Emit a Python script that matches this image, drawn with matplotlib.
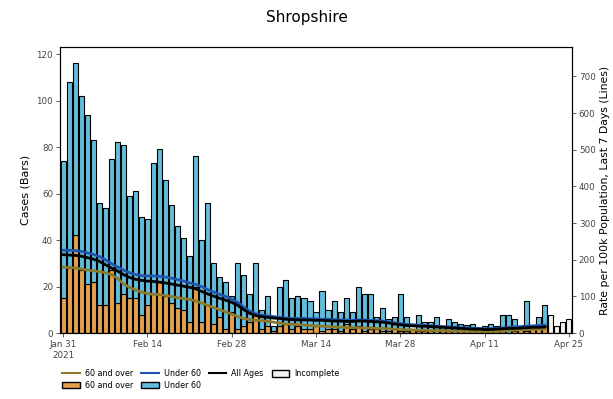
import matplotlib
matplotlib.use("Agg")
import matplotlib.pyplot as plt
from matplotlib.patches import Patch
from matplotlib.lines import Line2D
import numpy as np
import pandas as pd

# daily cases, Jan 31 2021 onwards (complete days)
total_cases = [74, 108, 116, 102, 94, 83, 56, 54, 75, 82, 81, 59, 61, 50, 49,
               73, 79, 66, 55, 46, 41, 33, 76, 40, 56, 30, 24, 22, 16,
               30, 25, 17, 30, 10, 16, 3, 20, 23, 15, 16, 15, 14, 9,
               18, 10, 14, 9, 15, 9, 20, 17, 17, 7, 11, 6, 7, 17,
               7, 2, 8, 5, 5, 7, 3, 6, 5, 4, 3.5, 4, 2, 3,
               4, 3, 8, 8, 6, 2, 14, 3, 7, 12]
over60_cases = [15, 28, 42, 27, 21, 22, 12, 12, 27, 13, 17, 15, 15, 8, 12,
                17, 22, 16, 13, 11, 10, 5, 20, 5, 12, 4, 7, 2, 9,
                2, 3, 5, 8, 2, 3, 1, 3, 4, 2, 3, 2, 2, 3,
                1, 2, 2, 1, 4, 2, 3, 1, 2, 2, 1, 1, 2, 1,
                1, 2, 1, 1, 1, 0, 1, 1, 0, 1, 0, 1, 0,
                1, 1, 1, 1, 0, 1, 2, 1, 2, 3, 3]
incomplete_cases = [8, 3, 5, 6]

# 7-day rates per 100k
rate_all = [214, 213, 212, 210, 206, 202, 196, 187, 178, 170, 160, 152, 147, 144, 142,
            141, 139, 137, 134, 131, 128, 125, 121, 114, 107, 101, 95, 90, 84,
            76, 64, 54, 48, 45, 43, 41, 40, 38, 37, 36, 36, 36, 35,
            35, 34, 33, 33, 32, 32, 33, 33, 32, 31, 30, 28, 25, 23,
            21, 20, 19, 19, 18, 17, 16, 15, 14, 13, 12, 11, 11, 10,
            10, 11, 12, 13, 13, 14, 15, 16, 16, 17]
rate_under60 = [226, 226, 225, 223, 219, 215, 209, 200, 190, 181, 172, 165, 160, 157, 156,
                156, 155, 153, 150, 146, 142, 137, 133, 127, 119, 112, 106, 100, 93,
                84, 71, 60, 53, 49, 47, 45, 43, 41, 40, 40, 40, 39, 39,
                38, 38, 37, 36, 36, 35, 36, 36, 35, 34, 33, 31, 28, 26,
                24, 23, 22, 21, 20, 19, 18, 17, 16, 15, 14, 13, 13, 12,
                12, 13, 14, 16, 17, 18, 19, 20, 21, 22]
rate_over60 = [180, 179, 178, 175, 172, 170, 168, 165, 160, 150, 135, 125, 118, 112, 108,
               106, 105, 103, 100, 97, 94, 92, 88, 82, 76, 70, 64, 58, 52,
               45, 40, 37, 35, 34, 32, 30, 27, 25, 24, 23, 22, 21, 20,
               19, 18, 17, 16, 15, 15, 15, 14, 14, 13, 13, 12, 11, 10,
               9, 9, 8, 8, 7, 7, 7, 6, 6, 6, 5, 5, 5, 5,
               5, 5, 6, 7, 8, 9, 10, 10, 11, 11]

tick_labels = ["Jan 31\n2021", "Feb 14", "Feb 28", "Mar 14", "Mar 28", "Apr 11", "Apr 25"]

start = pd.Timestamp("2021-01-31")
days = pd.date_range(start, periods=len(total_cases), freq="D")
inc_days = pd.date_range(days[-1] + pd.Timedelta(days=1), periods=len(incomplete_cases), freq="D")
under60_cases = np.array(total_cases) - np.array(over60_cases)

c_orange = "#E5A04E"
c_blue = "#63BDDB"
c_olive = "#8C7A2C"
c_line_blue = "#1F55B0"

fig = plt.figure(figsize=(6.13, 3.99), dpi=100)
ax = fig.add_axes([0.098, 0.165, 0.835, 0.717])

ax.bar(days, over60_cases, width=0.85, color=c_orange, edgecolor="black", linewidth=0.8)
ax.bar(days, under60_cases, bottom=over60_cases, width=0.85, color=c_blue,
       edgecolor="black", linewidth=0.8)
ax.bar(inc_days, incomplete_cases, width=0.85, color="#F2F2F2", edgecolor="black", linewidth=0.8)

ax2 = ax.twinx()
ax2.plot(days, rate_over60, color=c_olive, lw=2)
ax2.plot(days, rate_under60, color=c_line_blue, lw=2)
ax2.plot(days, rate_all, color="black", lw=2)

ax.set_xlim(start - pd.Timedelta(hours=12), inc_days[-1] + pd.Timedelta(hours=12))
ax.set_ylim(0, 123)
ax2.set_ylim(0, 780)
ax.set_yticks(range(0, 121, 20))
ax2.set_yticks(range(0, 701, 100))

ticks = pd.date_range(start, periods=len(tick_labels), freq="14D")
ax.set_xticks(ticks)
ax.set_xticklabels(tick_labels)

for a in (ax, ax2):
    a.tick_params(labelsize=6.3, length=3, width=0.6, colors="#444444", pad=2)
    for s in a.spines.values():
        s.set_linewidth(0.8)

ax.set_ylabel("Cases (Bars)", fontsize=8)
ax2.set_ylabel("Rate per 100k Population, Last 7 Days (Lines)", fontsize=7.8, labelpad=3)
fig.suptitle("Shropshire", fontsize=11, y=0.975)

handles = [
    Line2D([], [], color=c_olive, lw=1.5),
    Patch(facecolor=c_orange, edgecolor="black"),
    Line2D([], [], color=c_line_blue, lw=1.5),
    Patch(facecolor=c_blue, edgecolor="black"),
    Line2D([], [], color="black", lw=1.5),
    Patch(facecolor="#F2F2F2", edgecolor="black"),
]
labels = ["60 and over", "60 and over", "Under 60", "Under 60", "All Ages", "Incomplete"]
ax.legend(handles, labels, loc="upper left", bbox_to_anchor=(-0.01, -0.1), ncol=4,
          frameon=False, fontsize=5.8, handlelength=2.2, columnspacing=1.0,
          handleheight=0.9, handletextpad=0.6, labelspacing=0.35)

fig.savefig("out.png", dpi=100)
